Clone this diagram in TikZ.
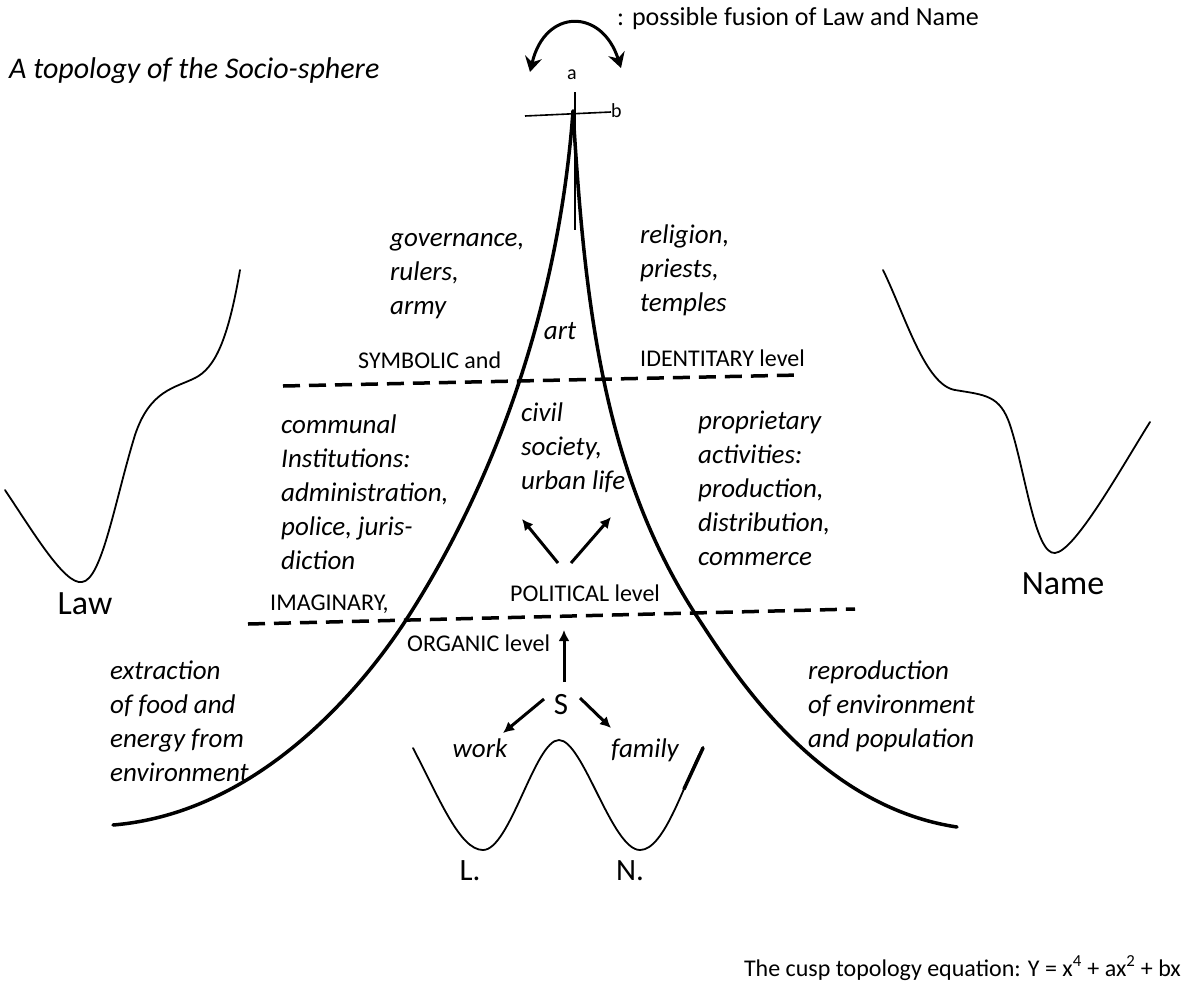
\documentclass[tikz,border=0pt]{standalone}
\usepackage{fontspec}
\setmainfont{Carlito}
\usetikzlibrary{arrows.meta}

\begin{document}
\begin{tikzpicture}[
    x=1pt, y=-1pt,
    lbl/.style={font=\fontsize{24}{29}\selectfont, inner sep=0pt},
    itx/.style={font=\fontsize{27}{34}\selectfont\itshape, align=left, inner sep=0pt},
    big/.style={font=\fontsize{34}{40}\selectfont, inner sep=0pt},
    tiny/.style={font=\fontsize{20}{24}\selectfont, inner sep=0pt},
    cusp/.style={line width=3.5pt, line cap=round},
    level/.style={line width=3.5pt, dash pattern=on 17pt off 9pt},
    well/.style={line width=1.8pt, line cap=round},
    arrow/.style={-{Latex[length=11pt,width=11pt]}, line width=3pt},
    swing/.style={{Stealth[length=15pt,width=17pt,inset=5pt]}-{Stealth[length=15pt,width=17pt,inset=5pt]}, line width=3pt}
]
\useasboundingbox (0,0) rectangle (1185,983);

\node[itx, font=\fontsize{30}{36}\selectfont\itshape, anchor=base west] (title) at (9,78) {A topology of the Socio-sphere};
\node[lbl, font=\fontsize{26}{30}\selectfont, anchor=base west] (fusion) at (617,25) {: possible fusion of Law and Name};
\node[tiny] (pa) at (572,75) {a};
\node[tiny, anchor=west] (pb) at (611,111) {b};

\coordinate (swingL) at (530,72);
\coordinate (swingR) at (621,68);
\draw[swing] (swingL) .. controls (545,8) and (602,8) .. (swingR);

\coordinate (bL) at (525,116);
\coordinate (bR) at (611,112);
\coordinate (aT) at (575,92);
\coordinate (aB) at (575,230);
\draw[line width=1.6pt] (bL) -- (bR);
\draw[line width=1.6pt] (aT) -- (aB);

\coordinate (apex) at (573,111);
\coordinate (lmid) at (406,620);
\coordinate (lend) at (113,825);
\coordinate (rmid) at (694,612);
\coordinate (rend) at (957,827);
\draw[cusp] (apex) .. controls (560,290) and (503,470) .. (lmid) .. controls (375,668) and (270,812) .. (lend);
\draw[cusp] (apex) .. controls (584,290) and (600,465) .. (rmid) .. controls (725,658) and (810,805) .. (rend);

\coordinate (upL) at (283,386);
\coordinate (upR) at (800,375);
\coordinate (loL) at (248,624);
\coordinate (loR) at (855,609);
\draw[level] (upL) -- (upR);
\draw[level] (loL) -- (loR);

\node[itx, anchor=base west] (govern) at (390,314) {governance,\\rulers,\\army};
\node[itx, anchor=base west] (relig) at (640,311) {religion,\\priests,\\temples};
\node[itx, anchor=base] (art) at (560,339) {art};
\node[lbl, anchor=base west] (symb) at (358,368) {SYMBOLIC and};
\node[lbl, anchor=base west] (ident) at (640,366) {IDENTITARY level};

\node[itx, anchor=base west] (commun) at (281,569) {communal\\Institutions:\\administration,\\police, juris-\\diction};
\node[itx, anchor=base west] (civil) at (521,489) {civil\\society,\\urban life};
\node[itx, anchor=base west] (propr) at (698,565) {proprietary\\activities:\\production,\\distribution,\\commerce};

\coordinate (vL) at (558,563);
\coordinate (vLt) at (522,519);
\coordinate (vR) at (571,563);
\coordinate (vRt) at (611,517);
\draw[arrow] (vL) -- (vLt);
\draw[arrow] (vR) -- (vRt);

\node[lbl, anchor=base west] (polit) at (510,601) {POLITICAL level};
\node[lbl, anchor=base west] (imag) at (270,610) {IMAGINARY,};
\node[lbl, anchor=base west] (organ) at (407,651) {ORGANIC level};

\node[big, font=\fontsize{31}{36}\selectfont] (S) at (561,705) {S};
\coordinate (upB) at (564,682);
\coordinate (upT) at (564,630);
\draw[arrow] (upB) -- (upT);
\coordinate (sw) at (544,699);
\coordinate (swT) at (503,733);
\coordinate (se) at (580,698);
\coordinate (seT) at (611,728);
\draw[arrow] (sw) -- (swT);
\draw[arrow] (se) -- (seT);

\node[itx, anchor=base] (work) at (480,757) {work};
\node[itx, anchor=base] (family) at (645,757) {family};

\draw[well] (413,748) .. controls (440,800) and (460,850) .. (483,850) .. controls (510,850) and (535,740) .. (559,740) .. controls (583,740) and (612,850) .. (640,850) .. controls (665,850) and (685,780) .. (703,747);
\draw[line width=3.5pt, line cap=round] (684,789) -- (703,748);

\node[big, font=\fontsize{31}{36}\selectfont, anchor=base] (lw) at (470,880) {L.};
\node[big, font=\fontsize{31}{36}\selectfont, anchor=base] (nw) at (630,880) {N.};

\node[itx, anchor=base west] (extr) at (110,781) {extraction\\of food and\\energy from\\environment};
\node[itx, anchor=base west] (repr) at (808,747) {reproduction\\of environment\\and population};

\draw[well] (5,490) .. controls (35,535) and (65,585) .. (82,582) .. controls (102,580) and (115,500) .. (135,435) .. controls (150,390) and (175,388) .. (195,378) .. controls (215,368) and (228,340) .. (240,270);
\node[big, anchor=base] (law) at (85,614) {Law};

\draw[well] (883,270) .. controls (905,315) and (925,385) .. (955,390) .. controls (985,395) and (1000,395) .. (1010,425) .. controls (1025,470) and (1035,555) .. (1055,553) .. controls (1075,551) and (1120,470) .. (1150,422);
\node[big, anchor=base] (name) at (1063,594) {Name};

\node[lbl, anchor=base east] (eq) at (1181,976) {The cusp topology equation: Y = x\textsuperscript{4} + ax\textsuperscript{2} + bx};

\end{tikzpicture}
\end{document}
